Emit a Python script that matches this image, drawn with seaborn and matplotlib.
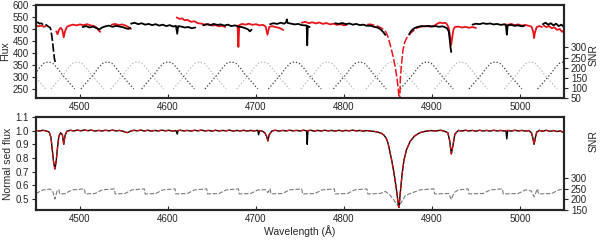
import matplotlib
matplotlib.use("Agg")
import matplotlib.pyplot as plt
import seaborn as sns

# ---------------- data ----------------
# top panel: raw flux of the two spectra, one piece per order
top_black_1_wave = [4450, 4452, 4454, 4456, 4458, 4460, 4462, 4464, 4466, 4467, 4468, 4469, 4470, 4471, 4471.8]
top_black_1_flux = [525, 528, 522, 524, 519, 521, 516, 510, 506, 495, 470, 440, 405, 375, 362]
top_black_2_wave = [4503, 4507, 4511, 4515, 4519, 4522, 4525, 4529, 4533, 4537, 4541, 4545, 4549, 4552, 4555, 4557]
top_black_2_flux = [508, 512, 506, 510, 503, 498, 506, 511, 514, 509, 513, 510, 507, 503, 500, 505]
top_black_3_wave = [4558, 4562, 4566, 4570, 4574, 4578, 4582, 4586, 4590, 4594, 4598, 4602, 4606, 4609, 4610.5,
                    4611.5, 4615, 4619, 4623, 4627, 4631]
top_black_3_flux = [522, 526, 520, 524, 518, 521, 516, 520, 514, 518, 512, 516, 510, 513, 480,
                    512, 510, 506, 508, 503, 506]
top_black_4_wave = [4640, 4644, 4648, 4652, 4656, 4660, 4664, 4668, 4672, 4676, 4680, 4684, 4688, 4691, 4693, 4695]
top_black_4_flux = [515, 520, 516, 521, 517, 519, 514, 518, 512, 515, 510, 508, 503, 498, 490, 497]
top_black_5_wave = [4716, 4720, 4724, 4728, 4732, 4734, 4735, 4736, 4740, 4744, 4748, 4752, 4756, 4757.6, 4758.2,
                    4758.8, 4761]
top_black_5_flux = [520, 524, 521, 526, 522, 527, 540, 525, 522, 519, 521, 516, 515, 514, 432, 512, 508]
top_black_6_wave = [4790, 4794, 4798, 4802, 4806, 4810, 4814, 4818, 4822, 4826, 4830, 4834, 4838, 4841, 4843, 4845, 4847]
top_black_6_flux = [524, 521, 525, 520, 523, 518, 521, 516, 518, 513, 514, 509, 506, 500, 493, 485, 475]
top_black_7_wave = [4874, 4876, 4878, 4881, 4884, 4888, 4892, 4896, 4900, 4904, 4908, 4912, 4915, 4917, 4919, 4920,
                    4921, 4921.8]
top_black_7_flux = [478, 490, 498, 505, 509, 512, 511, 513, 510, 512, 509, 511, 507, 503, 490, 460, 425, 404]
top_black_8_wave = [4946, 4950, 4954, 4958, 4962, 4966, 4970, 4974, 4978, 4982, 4984, 4985, 4986, 4990, 4994, 4998,
                    5002, 5005]
top_black_8_flux = [518, 522, 520, 524, 521, 523, 519, 521, 517, 519, 516, 476, 515, 517, 513, 515, 511, 513]
top_black_9_wave = [5026, 5029, 5032, 5035, 5038, 5041, 5044, 5047, 5050]
top_black_9_flux = [520, 526, 518, 524, 515, 522, 512, 518, 508]

top_red_1_wave = [4450, 4453, 4456, 4459, 4461]
top_red_1_flux = [515, 511, 514, 509, 512]
top_red_2_wave = [4473, 4474.5, 4476, 4478, 4480, 4481.5, 4483, 4485, 4488, 4492, 4496, 4500, 4504, 4508, 4512,
                  4516, 4519, 4521, 4523]
top_red_2_flux = [490, 478, 496, 505, 495, 465, 490, 508, 514, 518, 515, 519, 516, 520, 515, 512, 505, 495, 488]
top_red_3_wave = [4536, 4540, 4544, 4548, 4552, 4555, 4558]
top_red_3_flux = [518, 521, 516, 519, 514, 508, 500]
top_red_4_wave = [4610, 4613, 4616, 4619, 4622, 4626, 4630, 4634, 4638, 4642, 4646, 4650, 4654, 4658, 4662, 4665]
top_red_4_flux = [548, 542, 544, 536, 538, 530, 532, 524, 522, 518, 520, 514, 516, 511, 513, 508]
top_red_5_wave = [4679, 4680, 4681, 4684, 4688, 4692, 4696, 4700, 4704, 4708, 4711, 4713, 4715, 4718, 4722, 4726,
                  4729, 4731]
top_red_5_flux = [514, 425, 516, 521, 518, 522, 517, 520, 515, 517, 510, 476, 508, 512, 508, 505, 500, 496]
top_red_6_wave = [4752, 4756, 4760, 4764, 4768, 4772, 4776, 4780, 4784, 4788, 4792, 4796, 4800, 4803]
top_red_6_flux = [526, 530, 524, 528, 523, 527, 521, 525, 519, 522, 517, 520, 515, 517]
# H-beta wing, drawn dashed
top_red_7_wave = [4826, 4830, 4834, 4838, 4841, 4844, 4846, 4848, 4850, 4852, 4854, 4856, 4858, 4860, 4861.5,
                  4862.5, 4863, 4863.5, 4864, 4865, 4867, 4869, 4872, 4877, 4883, 4888]
top_red_7_flux = [518, 520, 516, 512, 507, 500, 495, 485, 467, 440, 412, 383, 345, 300, 255,
                  215, 200, 215, 290, 340, 412, 445, 467, 487, 504, 510]
top_red_8_wave = [4888, 4893, 4898, 4903, 4906, 4909, 4912, 4915, 4917, 4919, 4920.5, 4921.8, 4923, 4924.5, 4926,
                  4930, 4934, 4938, 4942, 4946, 4950]
top_red_8_flux = [510, 512, 510, 514, 522, 527, 524, 526, 520, 505, 470, 433, 465, 500, 508,
                  510, 506, 509, 505, 508, 504]
top_red_9_wave = [4982, 4986, 4990, 4994, 4998, 5002, 5006, 5010, 5013, 5015, 5016, 5017, 5019, 5022, 5025]
top_red_9_flux = [520, 517, 521, 516, 519, 514, 517, 513, 510, 490, 462, 485, 508, 512, 508]
top_red_10_wave = [5027, 5030, 5033, 5036, 5039, 5042, 5045, 5048, 5050]
top_red_10_flux = [514, 508, 512, 503, 507, 496, 500, 488, 495]

# SNR of each echelle order (top panel): blaze shape and order centres
order_centres = [4431, 4464, 4497, 4531, 4565, 4600, 4636, 4672, 4708, 4744, 4781, 4818, 4855, 4894, 4933,
                 4972, 5012, 5050]
blaze_dx = [-30, -25, -20, -15, -10, -5, 0, 5, 10, 15, 20, 25, 30]
blaze_snr = [95, 120, 145, 170, 200, 222, 229, 222, 200, 170, 145, 120, 95]

# bottom panel: normalised spectra
norm_wave = [4450, 4454, 4458, 4462, 4465, 4467, 4468.5, 4470, 4471.5, 4473,
             4474.5, 4476, 4478, 4480, 4481.5, 4483, 4485, 4489, 4493, 4497,
             4501, 4505, 4509, 4513, 4517, 4521, 4525, 4529, 4533, 4537,
             4541, 4545, 4549, 4552, 4554, 4557, 4561, 4565, 4569, 4573,
             4577, 4581, 4585, 4589, 4593, 4597, 4601, 4605, 4609, 4610.5,
             4611.5, 4614, 4618, 4622, 4626, 4630, 4634, 4638, 4642, 4646,
             4650, 4654, 4658, 4662, 4666, 4670, 4674, 4678, 4682, 4686,
             4690, 4694, 4698, 4702, 4703, 4704, 4707, 4710, 4712, 4713.5,
             4715, 4718, 4722, 4726, 4730, 4734, 4738, 4742, 4746, 4750,
             4754, 4757.5, 4758.2, 4759, 4762, 4766, 4770, 4774, 4778, 4782,
             4786, 4790, 4794, 4798, 4802, 4806, 4810, 4814, 4818, 4822,
             4826, 4830, 4834, 4838, 4842, 4845, 4848, 4850, 4852, 4854,
             4856, 4858, 4860, 4861.5, 4862.5, 4864, 4866, 4868, 4871, 4875,
             4880, 4886, 4892, 4898, 4904, 4910, 4914, 4918, 4920, 4922,
             4924, 4926, 4930, 4934, 4938, 4942, 4946, 4950, 4954, 4958,
             4962, 4966, 4970, 4974, 4978, 4982, 4984, 4985, 4986, 4990,
             4994, 4998, 5002, 5006, 5010, 5013, 5014.5, 5016, 5017.5, 5019,
             5022, 5026, 5030, 5034, 5038, 5042, 5046, 5050]
norm_red = [1.002, 0.998, 1.003, 0.997, 0.99, 0.95, 0.86, 0.77, 0.72, 0.78,
            0.88, 0.96, 0.985, 0.97, 0.90, 0.965, 0.995, 1.003, 0.998, 1.004,
            0.999, 1.005, 1.000, 1.004, 0.997, 1.002, 0.998, 1.003, 0.999, 1.004,
            0.998, 1.002, 0.996, 0.988, 0.986, 0.995, 1.003, 0.999, 1.004, 0.998,
            1.003, 0.997, 1.002, 0.998, 1.004, 0.999, 1.003, 0.997, 1.001, 0.999,
            1.001, 1.003, 0.998, 1.002, 0.997, 1.003, 0.999, 1.004, 0.998, 1.002,
            0.997, 1.003, 0.998, 1.002, 0.999, 1.004, 0.997, 1.002, 0.998, 1.003,
            0.997, 1.002, 0.998, 1.003, 0.999, 1.001, 0.997, 0.985, 0.96, 0.925,
            0.97, 0.998, 1.003, 0.997, 1.002, 0.998, 1.003, 0.999, 1.002, 0.998,
            1.003, 0.999, 0.998, 1.000, 1.003, 0.997, 1.002, 0.998, 1.003, 0.999,
            1.002, 0.997, 1.003, 0.998, 1.002, 0.999, 1.004, 0.998, 1.002, 0.997,
            1.001, 0.997, 0.995, 0.99, 0.982, 0.97, 0.945, 0.91, 0.85, 0.79,
            0.72, 0.64, 0.55, 0.47, 0.44, 0.55, 0.68, 0.78, 0.86, 0.92,
            0.96, 0.985, 0.995, 1.001, 0.998, 1.003, 0.996, 0.985, 0.93, 0.83,
            0.9, 0.975, 1.002, 0.997, 1.003, 0.998, 1.002, 0.996, 1.003, 0.998,
            1.002, 0.997, 1.003, 0.998, 1.002, 0.997, 1.001, 0.999, 1.002, 0.997,
            1.003, 0.998, 1.002, 0.997, 1.001, 0.985, 0.95, 0.90, 0.95, 0.99,
            1.002, 0.996, 1.003, 0.995, 1.001, 0.994, 0.998, 0.985]
# sharp features only present in the black spectrum
black_spike_wave = [4610.5, 4703, 4758.2, 4985]
black_spike_flux = [0.975, 0.97, 0.90, 0.94]

# merged SNR (bottom panel)
merged_wave = [4450, 4458, 4466, 4469, 4471.5, 4474, 4476, 4477,
               4483, 4491, 4505, 4506,
               4517, 4525, 4539, 4540,
               4551, 4559, 4573, 4574,
               4586, 4594, 4608, 4609,
               4622, 4630, 4644, 4645,
               4658, 4666, 4680, 4681,
               4694, 4702, 4711, 4713.5, 4716, 4717,
               4730, 4738, 4752, 4753,
               4767, 4775, 4789, 4790,
               4804, 4812, 4826, 4827,
               4841, 4847, 4852, 4857, 4862, 4866, 4870, 4878,
               4886, 4902, 4903,
               4919, 4922, 4925, 4930, 4941, 4942,
               4958, 4966, 4980, 4981,
               4998, 5006, 5013, 5016, 5019, 5020, 5021,
               5036, 5044, 5050]
merged_snr = [228, 245, 249, 238, 202, 240, 246, 226,
              228, 245, 250, 226,
              228, 245, 250, 226,
              228, 245, 250, 226,
              228, 245, 250, 226,
              228, 245, 250, 226,
              228, 245, 250, 226,
              228, 245, 246, 232, 250, 226,
              228, 245, 250, 226,
              228, 245, 250, 226,
              228, 245, 250, 226,
              228, 238, 222, 195, 165, 192, 220, 232,
              245, 250, 226,
              228, 200, 232, 245, 250, 226,
              228, 245, 250, 226,
              228, 245, 240, 212, 242, 250, 226,
              228, 245, 249]

wave_ticks = [4500, 4600, 4700, 4800, 4900, 5000]

# ---------------- style ----------------
sns.set_style("ticks")
plt.rcParams['font.family'] = ['Liberation Sans', 'DejaVu Sans']
plt.rcParams['font.size'] = 7

RED = '#e8141a'
DARK_ORDER = '#3a3a3a'
LIGHT_ORDER = '#b4b4b4'
DASHED = (0, (5, 1.5))


def draw(ax, wave, flux, **kw):
    sns.lineplot(x=wave, y=flux, ax=ax, estimator=None, sort=False, legend=False, **kw)


fig = plt.figure(figsize=(6, 2.4), dpi=100)
ax_top = fig.add_axes([0.06, 0.5917, 0.88, 0.3875])
ax_top_snr = ax_top.twinx()
ax_bot = fig.add_axes([0.06, 0.125, 0.88, 0.3875])
ax_bot_snr = ax_bot.twinx()

# spectra in front of the SNR curves
for ax, tw in [(ax_top, ax_top_snr), (ax_bot, ax_bot_snr)]:
    ax.set_zorder(tw.get_zorder() + 1)
    ax.patch.set_visible(False)

# ---- top panel ----
for i, c in enumerate(order_centres):
    col = LIGHT_ORDER if i % 2 == 0 else DARK_ORDER
    draw(ax_top_snr, [c + d for d in blaze_dx], blaze_snr, color=col, lw=0.9, linestyle=':')

red_pieces = [(top_red_1_wave, top_red_1_flux), (top_red_2_wave, top_red_2_flux),
              (top_red_3_wave, top_red_3_flux), (top_red_4_wave, top_red_4_flux),
              (top_red_5_wave, top_red_5_flux), (top_red_6_wave, top_red_6_flux),
              (top_red_8_wave, top_red_8_flux), (top_red_9_wave, top_red_9_flux),
              (top_red_10_wave, top_red_10_flux)]
black_pieces = [(top_black_2_wave, top_black_2_flux),
                (top_black_3_wave, top_black_3_flux), (top_black_4_wave, top_black_4_flux),
                (top_black_5_wave, top_black_5_flux), (top_black_6_wave, top_black_6_flux),
                (top_black_7_wave, top_black_7_flux), (top_black_8_wave, top_black_8_flux),
                (top_black_9_wave, top_black_9_flux)]
for w, f in red_pieces:
    draw(ax_top, w, f, color=RED, lw=1.3)
draw(ax_top, top_red_7_wave, top_red_7_flux, color=RED, lw=1.1, linestyle=DASHED)
for w, f in black_pieces:
    draw(ax_top, w, f, color='black', lw=1.3)
draw(ax_top, top_black_1_wave, top_black_1_flux, color='black', lw=1.2, linestyle=DASHED)

ax_top.set_xlim(4450, 5050)
ax_top.set_ylim(212, 600)
ax_top.set_yticks([250, 300, 350, 400, 450, 500, 550, 600])
ax_top.set_xticks(wave_ticks)
ax_top.set_ylabel('Flux', fontsize=7.5)
ax_top.yaxis.set_label_coords(-0.049, 0.5)
ax_top.set_xlabel('')

ax_top_snr.set_ylim(50, 510)
ax_top_snr.set_yticks([50, 100, 150, 200, 250, 300])
ax_top_snr.set_ylabel('SNR', fontsize=7.5)
ax_top_snr.yaxis.set_label_coords(1.047, 0.46)

# ---- bottom panel ----
norm_black = list(norm_red)
for w, f in zip(black_spike_wave, black_spike_flux):
    norm_black[norm_wave.index(w)] = f

draw(ax_bot_snr, merged_wave, merged_snr, color='#7a7a7a', lw=0.8, linestyle=(0, (4, 1.5)))
draw(ax_bot, norm_wave, norm_black, color='black', lw=1.0)
draw(ax_bot, norm_wave, norm_red, color='#d01010', lw=0.9, linestyle=(0, (4, 1.5)))

ax_bot.set_xlim(4450, 5050)
ax_bot.set_ylim(0.42, 1.1)
ax_bot.set_yticks([0.5, 0.6, 0.7, 0.8, 0.9, 1.0, 1.1])
ax_bot.set_xticks(wave_ticks)
ax_bot.set_ylabel('Normal sed flux', fontsize=7.5)
ax_bot.yaxis.set_label_coords(-0.044, 0.5)
ax_bot.set_xlabel('Wavelength (\u00c5)', fontsize=7.5, labelpad=1)

ax_bot_snr.set_ylim(150, 590)
ax_bot_snr.set_yticks([150, 200, 250, 300])
ax_bot_snr.set_ylabel('SNR', fontsize=7.5)
ax_bot_snr.yaxis.set_label_coords(1.047, 0.74)

for ax in [ax_top, ax_top_snr, ax_bot, ax_bot_snr]:
    for sp in ax.spines.values():
        sp.set_linewidth(1.5)
        sp.set_visible(True)
    ax.tick_params(axis='y', direction='out', length=3, width=0.8, labelsize=7, pad=2)
    ax.tick_params(axis='x', direction='in', length=3, width=0.8, labelsize=7, pad=3)

fig.savefig('out.png', dpi=100)
